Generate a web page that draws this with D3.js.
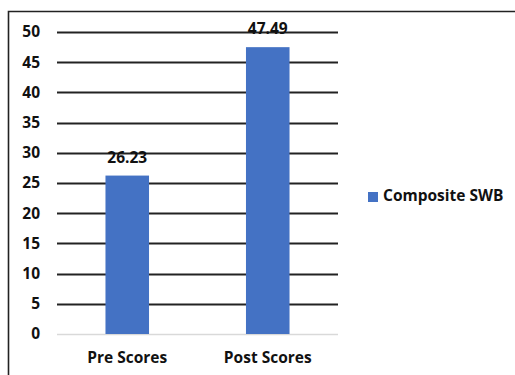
<!DOCTYPE html>
<html>
<head>
<meta charset="utf-8">
<script src="https://cdn.jsdelivr.net/npm/d3@7"></script>
<style>
  body { margin: 0; background: #fff; }
  text { font-family: "Open Sans", "Noto Sans", sans-serif; font-weight: bold; fill: #111; }
</style>
</head>
<body>
<div id="chart"></div>
<script>
// Data
const categories = ["Pre Scores", "Post Scores"];
const values = [26.23, 47.49];
const seriesName = "Composite SWB";
const yTicks = [0, 5, 10, 15, 20, 25, 30, 35, 40, 45, 50];

const fullWidth = 515;
const fullHeight = 375;
const margin = { top: 32, right: 177, bottom: 41, left: 57 };
const width = fullWidth - margin.left - margin.right;
const height = fullHeight - margin.top - margin.bottom;

const root = d3.select("#chart").append("svg")
  .attr("width", fullWidth)
  .attr("height", fullHeight);

// Outer frame (top and left edges visible)
root.append("path")
  .attr("d", `M8.5,${fullHeight} V11.5 H${fullWidth}`)
  .attr("fill", "none")
  .attr("stroke", "#222")
  .attr("stroke-width", 1.6);

const svg = root.append("g")
  .attr("transform", `translate(${margin.left},${margin.top})`);

// Scales
const x = d3.scaleBand()
  .domain(categories)
  .range([0, width])
  .paddingInner(0.69)
  .paddingOuter(0.345);

const y = d3.scaleLinear()
  .domain([0, 50])
  .range([height, 0]);

// Gridlines
svg.append("g")
  .selectAll("line")
  .data(yTicks)
  .enter()
  .append("line")
  .attr("x1", 0)
  .attr("x2", width)
  .attr("y1", d => Math.round(y(d)) + 0.5)
  .attr("y2", d => Math.round(y(d)) + 0.5)
  .attr("stroke", d => d === 0 ? "#d9d9d9" : "#222")
  .attr("stroke-width", d => d === 0 ? 1.5 : 2);

// Y axis labels
const yAxis = svg.append("g")
  .call(d3.axisLeft(y).tickValues(yTicks).tickSize(0).tickPadding(17));
yAxis.select(".domain").remove();
yAxis.selectAll("text")
  .style("font-size", "15.5px")
  .style("font-family", "'Open Sans', sans-serif")
  .style("font-weight", "bold")
  .attr("fill", "#111");

// X axis labels
const xAxis = svg.append("g")
  .attr("transform", `translate(0,${height})`)
  .call(d3.axisBottom(x).tickSize(0).tickPadding(18));
xAxis.select(".domain").remove();
xAxis.selectAll("text")
  .style("font-size", "15.5px")
  .style("font-family", "'Open Sans', sans-serif")
  .style("font-weight", "bold")
  .attr("fill", "#111");

// Bars
svg.selectAll("rect.bar")
  .data(values)
  .enter()
  .append("rect")
  .attr("class", "bar")
  .attr("x", (d, i) => x(categories[i]))
  .attr("y", d => y(d))
  .attr("width", x.bandwidth())
  .attr("height", d => height - y(d))
  .attr("fill", "#4472c4");

// Value labels
svg.selectAll("text.val")
  .data(values)
  .enter()
  .append("text")
  .attr("class", "val")
  .attr("x", (d, i) => x(categories[i]) + x.bandwidth() / 2)
  .attr("y", d => y(d) - 17)
  .attr("text-anchor", "middle")
  .attr("dominant-baseline", "middle")
  .style("font-size", "15.5px")
  .text(d => d.toFixed(2));

// Legend
const legend = root.append("g")
  .attr("transform", "translate(368,192)");
legend.append("rect")
  .attr("width", 10)
  .attr("height", 10)
  .attr("fill", "#4472c4");
legend.append("text")
  .attr("x", 15)
  .attr("y", 5)
  .attr("dominant-baseline", "middle")
  .style("font-size", "15.5px")
  .text(seriesName);
</script>
</body>
</html>
